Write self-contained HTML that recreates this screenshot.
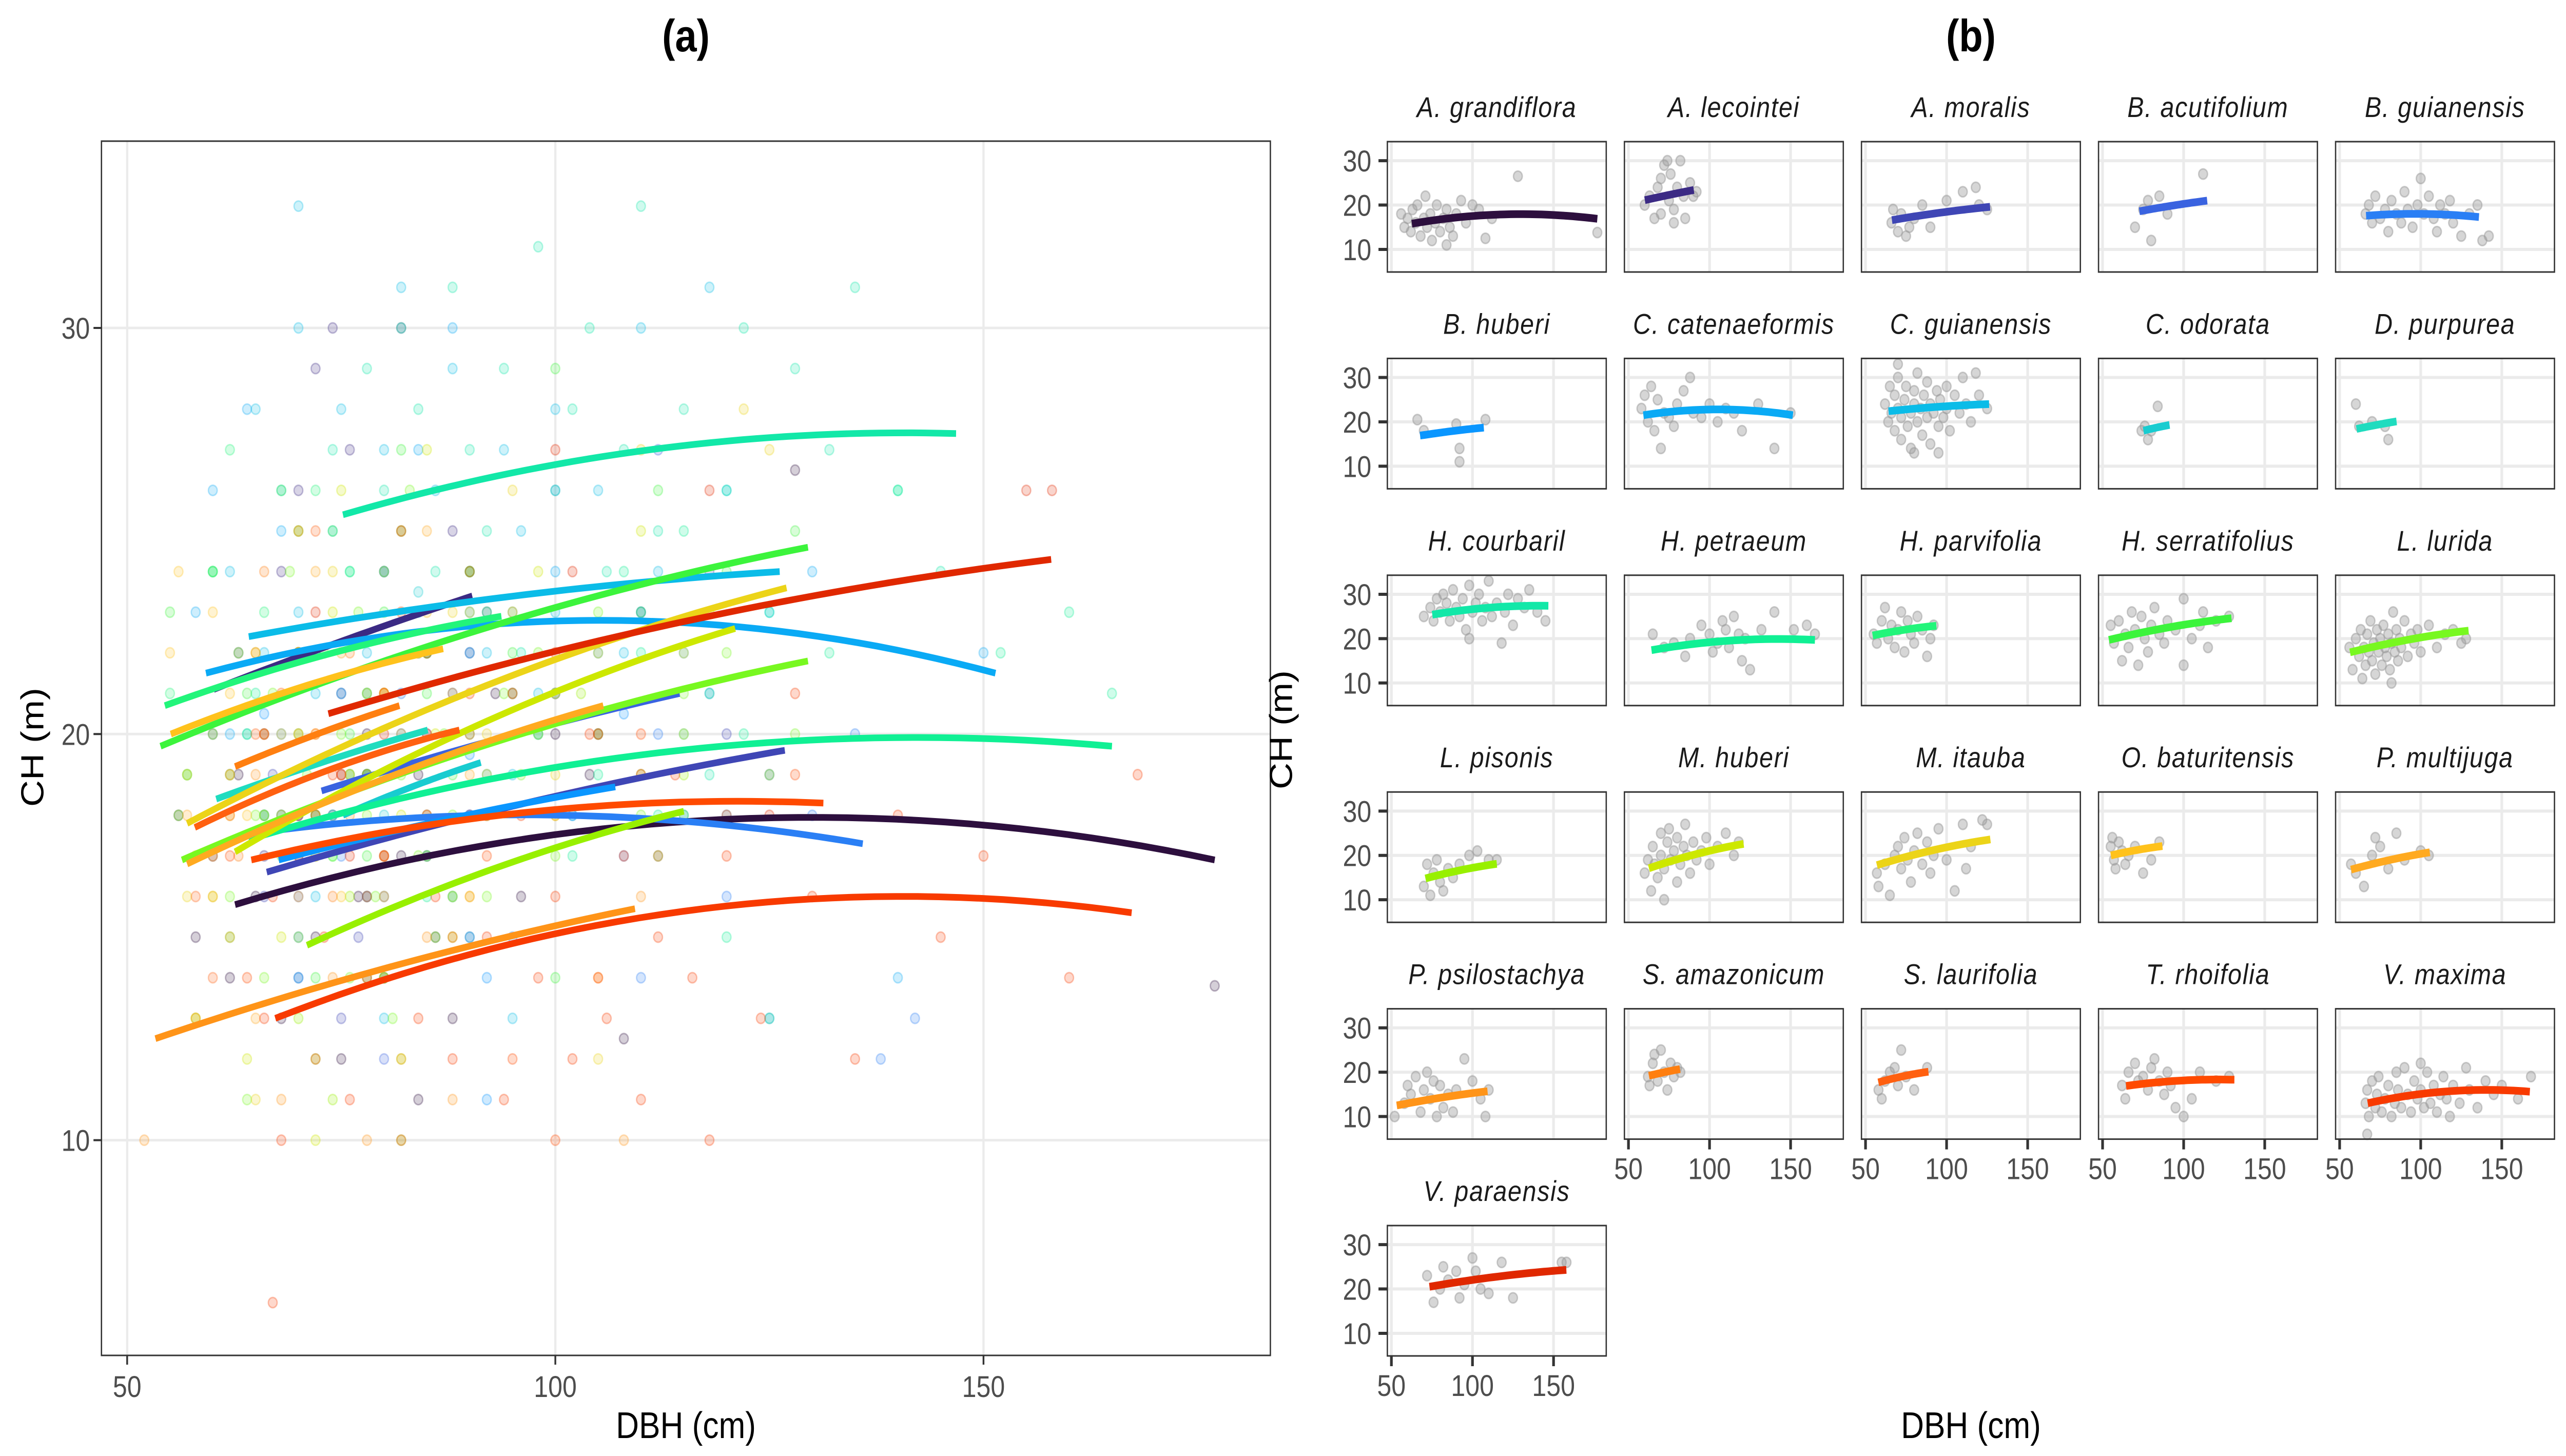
<!DOCTYPE html>
<html><head><meta charset="utf-8"><title>CH vs DBH</title>
<style>
html,body{margin:0;padding:0;background:#fff;overflow:hidden;width:100vw;height:100vh;}
svg{display:block;font-family:"Liberation Sans",Arial,sans-serif;width:100vw;height:100vh;}
</style></head>
<body>
<svg id="chart" xmlns="http://www.w3.org/2000/svg" viewBox="0 0 5791 2837" preserveAspectRatio="none">
<rect x="0" y="0" width="5791" height="2837" fill="#fff"/>
<g id="panelA"></g>
<g id="panelB"></g>
</svg>
<script>
// ---------- DATA ----------
const species = ["A. grandiflora","A. lecointei","A. moralis","B. acutifolium","B. guianensis",
"B. huberi","C. catenaeformis","C. guianensis","C. odorata","D. purpurea",
"H. courbaril","H. petraeum","H. parvifolia","H. serratifolius","L. lurida",
"L. pisonis","M. huberi","M. itauba","O. baturitensis","P. multijuga",
"P. psilostachya","S. amazonicum","S. laurifolia","T. rhoifolia","V. maxima","V. paraensis"];
const speciesColors = ["#2d0f3e","#3b2a84","#3f46b5","#3a63e0","#2a7ff5","#0a96ff","#0aaaf5","#0bbce8","#18ccd0","#1fdcbf",
"#12e8a8","#10f094","#22f57a","#3cf43c","#78f820","#98f000","#cde800","#ecd418","#ffc21c","#ffaa20",
"#ff9418","#ff7f10","#ff6010","#ff4a00","#f83a00","#e02800"];
const curveXStart = [62.6,60.1,66.3,72.7,66.3,67.7,59.2,64.2,75.2,60.4,75.2,64.2,54.4,53.9,56.4,71,62.6,57,55.1,57,53.3,62.6,57.9,64.5,67.3,73.5];
const curveXEnd   = [177,90.3,126.8,114.5,135.9,107,151.4,126.2,91.3,85.1,146.8,165,93.7,129.5,129.5,115,121,127,86.9,105.6,109.3,81.8,88.8,131.3,167.3,157.9];
const curveYStart = [15.8,21.1,16.6,18.6,17.6,16.9,21.5,22.4,18.0,18.4,25.4,17.4,20.7,19.7,16.9,14.8,17.1,17.8,20.0,16.8,12.5,19.2,17.7,16.9,13.0,20.5];
const curveYMid   = [17.9,22.3,18.3,19.9,18.0,17.9,22.8,23.4,18.7,19.3,27.0,19.6,22.0,22.6,19.8,16.7,20.3,21.2,21.2,19.0,14.3,20.0,19.1,18.1,15.7,22.8];
const curveYEnd   = [16.9,23.4,19.6,21.0,17.3,18.7,21.5,24.0,19.3,20.1,27.4,19.7,22.9,24.6,21.8,18.1,22.6,23.6,22.1,20.7,15.7,20.7,20.1,18.3,15.6,24.3];
const pts = [
[[56,18],[58,15],[60,17],[62,14],[63,19],[65,16],[66,20],[68,13],[70,17],[71,22],[72,15],[74,18],[75,12],[77,16],[78,20],[80,14],[82,17],[84,19],[86,15],[88,13],[90,18],[93,21],[96,16],[100,20],[104,19],[108,12.5],[112,17],[128,26.5],[177,13.8],[84,11]],
[[60,20],[63,22],[66,17],[68,24],[70,26],[72,29],[74,30],[75,21],[76,27],[78,19],[80,24],[82,30],[84,22],[85,17],[88,25],[90,22],[92,23],[78,16],[70,18]],
[[66,16],[67,19],[70,14],[72,18],[75,13],[77,15],[80,17],[85,20],[90,15],[100,21],[110,23],[118,24],[120,20],[125,19]],
[[70,15],[75,19],[78,21],[80,12],[85,22],[90,18],[112,27]],
[[66,18],[68,20],[70,16],[72,22],[75,17],[78,19],[80,14],[82,21],[85,18],[88,16],[90,23],[92,19],[95,15],[98,20],[100,26],[102,18],[105,22],[108,17],[110,14],[112,20],[115,18],[118,21],[120,16],[125,13],[130,18],[135,20],[138,12],[142,13]],
[[66,20.5],[70,18],[90,19.5],[92,14],[92,11],[108,20.5]],
[[58,23],[60,26],[62,20],[64,28],[66,18],[68,25],[70,14],[72,22],[75,21],[78,19],[80,24],[84,27],[88,30],[90,22],[95,21],[100,24],[105,20],[110,23],[115,22],[120,18],[130,24],[140,14],[150,22]],
[[62,24],[64,20],[65,28],[66,22],[68,18],[68,26],[70,30],[70,23],[72,16],[72,21],[74,25],[75,28],[76,19],[78,22],[78,14],[80,24],[80,27],[82,20],[82,31],[84,23],[85,17],[86,26],[88,21],[88,29],[90,24],[90,15],[92,22],[94,27],[95,19],[96,25],[98,21],[100,23],[100,28],[102,18],[105,26],[108,22],[110,30],[112,24],[115,20],[118,31],[120,26],[125,23],[70,33],[80,13],[95,13]],
[[74,18],[76,19],[78,16],[84,23.5],[80,18]],
[[60,24],[62,19],[70,20],[78,19],[80,16]],
[[70,25],[74,27],[76,24],[78,29],[80,26],[82,30],[84,28],[86,24],[88,31],[90,27],[92,25],[94,29],[96,22],[98,32],[100,26],[102,28],[104,30],[106,24],[108,27],[110,33],[112,25],[115,28],[118,19],[120,26],[122,30],[125,23],[128,29],[132,27],[135,31],[140,26],[145,24],[98,20]],
[[65,21],[72,18],[78,19],[85,16],[88,20],[95,23],[100,21],[102,17],[105,19],[108,24],[110,22],[112,18],[115,25],[118,21],[120,15],[122,20],[125,13],[132,22],[140,26],[152,22],[160,23],[165,21]],
[[55,21],[57,19],[60,24],[62,27],[64,20],[66,23],[68,18],[70,22],[72,26],[74,17],[76,24],[78,21],[80,19],[82,25],[85,22],[88,16],[90,20],[92,23]],
[[55,23],[57,19],[60,24],[62,15],[64,21],[66,18],[68,26],[70,22],[72,14],[74,25],[76,20],[78,17],[80,23],[82,27],[85,21],[88,19],[90,24],[95,22],[100,29],[105,20],[110,23],[112,26],[115,18],[120,24],[128,25],[100,14]],
[[56,18],[58,13],[60,20],[62,16],[63,22],[64,11],[65,18],[66,14],[67,21],[68,17],[69,24],[70,15],[71,19],[72,12],[73,22],[74,17],[75,20],[76,14],[77,23],[78,18],[79,16],[80,21],[81,13],[82,19],[83,26],[84,17],[85,22],[86,15],[87,20],[88,18],[90,24],[92,16],[94,21],[96,19],[98,22],[100,17],[105,23],[110,18],[115,21],[120,22],[125,19],[128,20],[82,10]],
[[70,13],[72,18],[74,11],[76,16],[78,19],[80,14],[82,12],[85,17],[88,15],[92,18],[98,20],[103,21],[110,19],[115,19]],
[[60,16],[62,19],[64,12],[65,22],[66,18],[68,15],[70,20],[70,25],[72,17],[74,23],[75,26],[76,19],[78,21],[80,14],[80,24],[82,18],[84,22],[85,27],[86,20],[88,16],[90,23],[92,19],[95,21],[98,24],[100,18],[105,22],[110,25],[115,20],[118,23],[72,10]],
[[57,16],[58,13],[62,18],[65,11],[68,20],[70,22],[72,17],[74,24],[76,19],[78,14],[80,21],[82,25],[85,18],[88,23],[90,16],[92,20],[95,26],[100,19],[105,12],[110,27],[115,22],[122,28],[125,27],[112,17]],
[[55,22],[56,24],[57,19],[58,17],[60,23],[62,21],[64,18],[66,20],[70,22],[75,16],[80,19],[85,23]],
[[57,18],[60,16],[65,13],[70,20],[72,24],[75,22],[80,17],[85,25],[90,19],[100,21],[105,20]],
[[52,10],[58,13],[60,17],[62,15],[65,19],[68,11],[70,16],[72,20],[74,14],[76,18],[78,10],[80,17],[82,12],[85,15],[88,11],[90,16],[95,23],[100,18],[105,14],[108,10],[110,16]],
[[62,19],[63,17],[65,22],[66,24],[68,18],[70,25],[72,20],[74,16],[76,22],[78,19],[80,21],[82,20]],
[[58,16],[60,14],[62,18],[65,20],[68,21],[70,17],[72,25],[75,19],[80,16],[88,21]],
[[62,17],[64,14],[66,20],[70,22],[72,18],[75,19],[78,16],[80,21],[82,23],[85,18],[88,15],[90,20],[92,17],[95,12],[100,10],[105,14],[110,20],[120,18],[128,19]],
[[66,13],[67,16],[68,10],[70,18],[72,12],[73,15],[74,19],[76,11],[78,14],[80,17],[82,10],[84,13],[85,20],[86,16],[88,12],[90,21],[92,15],[94,11],[96,18],[98,14],[100,16],[102,12],[104,20],[106,13],[108,17],[110,11],[112,15],[114,19],[116,14],[118,10],[120,17],[124,13],[128,21],[130,16],[135,12],[140,18],[145,15],[150,17],[160,14],[168,19],[67,6],[100,22]],
[[72,23],[76,17],[80,20],[82,25],[85,22],[90,24],[92,18],[95,21],[100,27],[102,24],[105,20],[110,19],[118,26],[125,18],[155,26],[158,26]]
];
const xTicks = [50,100,150];
const yTicks = [10,20,30];

// ---------- HELPERS ----------
const NS = "http://www.w3.org/2000/svg";
function mk(tag, attrs, parent){
  const e = document.createElementNS(NS, tag);
  for (const k in attrs) e.setAttribute(k, attrs[k]);
  parent.appendChild(e);
  return e;
}
function curvePts(i, n){
  const x0=curveXStart[i], x2=curveXEnd[i], x1=(x0+x2)/2;
  const y0=curveYStart[i], y1=curveYMid[i], y2=curveYEnd[i];
  const out=[];
  for(let k=0;k<=n;k++){
    const x=x0+(x2-x0)*k/n;
    const L0=((x-x1)*(x-x2))/((x0-x1)*(x0-x2));
    const L1=((x-x0)*(x-x2))/((x1-x0)*(x1-x2));
    const L2=((x-x0)*(x-x1))/((x2-x0)*(x2-x1));
    out.push([x, y0*L0+y1*L1+y2*L2]);
  }
  return out;
}

// ---------- PANEL A ----------
const A = document.getElementById('panelA');
const aL=229, aR=2867, aT=275, aB=2641;
const axD=[47.0,183.5], ayD=[4.7,34.6];
const ax = v => aL + (v-axD[0])/(axD[1]-axD[0])*(aR-aL);
const ay = v => aB - (v-ayD[0])/(ayD[1]-ayD[0])*(aB-aT);

let t = mk('text',{x:1548,y:100,'text-anchor':'middle','font-size':88,'font-weight':'bold',fill:'#000'},A);
t.textContent='(a)';



const gA = mk('g',{},A);


xTicks.forEach(v=>{ mk('line',{x1:ax(v),x2:ax(v),y1:aT,y2:aB,stroke:'#ebebeb','stroke-width':5},gA); });
yTicks.forEach(v=>{ mk('line',{x1:aL,x2:aR,y1:ay(v),y2:ay(v),stroke:'#ebebeb','stroke-width':5},gA); });

const ptsA = mk('g',{},A);


pts.forEach((arr,i)=>{
  arr.forEach(p=>{
    const c = mk('circle',{cx:ax(p[0]),cy:ay(p[1]),r:10,fill:speciesColors[i],'fill-opacity':0.2,stroke:speciesColors[i],'stroke-opacity':0.3,'stroke-width':3},ptsA);
    
    
  });
});
const crvA = mk('g',{},A);


species.forEach((s,i)=>{
  const d = curvePts(i,40).map((p,k)=>(k?'L':'M')+ax(p[0]).toFixed(1)+','+ay(p[1]).toFixed(1)).join(' ');
  const pth = mk('path',{d:d,fill:'none',stroke:speciesColors[i],'stroke-width':13},crvA);
  
  
});
const frA = mk('rect',{x:aL,y:aT,width:aR-aL,height:aB-aT,fill:'none',stroke:'#333','stroke-width':3},A);


xTicks.forEach(v=>{
  mk('line',{x1:ax(v),x2:ax(v),y1:aB,y2:aB+18,stroke:'#333','stroke-width':4},A);
  const l = mk('text',{x:ax(v),y:2722,'text-anchor':'middle','font-size':58,fill:'#4d4d4d'},A);
  l.textContent=v;
  
  
});
yTicks.forEach(v=>{
  mk('line',{x1:aL-18,x2:aL,y1:ay(v),y2:ay(v),stroke:'#333','stroke-width':4},A);
  const l = mk('text',{x:aL-26,y:ay(v)+21,'text-anchor':'end','font-size':58,fill:'#4d4d4d'},A);
  l.textContent=v;
  
  
});
t = mk('text',{x:1548,y:2802,'text-anchor':'middle','font-size':72,fill:'#000'},A);
t.textContent='DBH (cm)';


t = mk('text',{x:0,y:0,'text-anchor':'middle','font-size':72,fill:'#000',transform:'translate(98,1456) rotate(-90)'},A);
t.textContent='CH (m)';



// ---------- PANEL B ----------
const B = document.getElementById('panelB');
const bL0=3131, bW=494, bPitchX=535, bT0=276, bH=254, bPitchY=422.4;
const bxD=[47.5,182.5], byD=[4.9,34.3];
t = mk('text',{x:4448,y:100,'text-anchor':'middle','font-size':88,'font-weight':'bold',fill:'#000'},B);
t.textContent='(b)';



species.forEach((s,i)=>{
  const col=i%5, row=Math.floor(i/5);
  const L=bL0+col*bPitchX, T=bT0+row*bPitchY, R=L+bW, Bm=T+bH;
  const bx = v => L + (v-bxD[0])/(bxD[1]-bxD[0])*bW;
  const by = v => Bm - (v-byD[0])/(byD[1]-byD[0])*bH;
  const g = mk('g',{},B);
  
  
  const st = mk('text',{x:L+bW/2,y:T-48,'text-anchor':'middle','font-size':56,'font-style':'italic',fill:'#1a1a1a','letter-spacing':2},g);
  st.textContent=s;
  
  
  xTicks.forEach(v=>{ mk('line',{x1:bx(v),x2:bx(v),y1:T,y2:Bm,stroke:'#ebebeb','stroke-width':6},g); });
  yTicks.forEach(v=>{ mk('line',{x1:L,x2:R,y1:by(v),y2:by(v),stroke:'#ebebeb','stroke-width':6},g); });
  pts[i].forEach(p=>{
    const c = mk('circle',{cx:bx(p[0]),cy:by(p[1]),r:10,fill:'#999','fill-opacity':0.4,stroke:'#999','stroke-opacity':0.5,'stroke-width':3},g);
    
    
  });
  const d = curvePts(i,30).map((p,k)=>(k?'L':'M')+bx(p[0]).toFixed(1)+','+by(p[1]).toFixed(1)).join(' ');
  const pth = mk('path',{d:d,fill:'none',stroke:speciesColors[i],'stroke-width':15},g);
  
  
  mk('rect',{x:L,y:T,width:bW,height:bH,fill:'none',stroke:'#333','stroke-width':3},g);
  if(col===0){
    yTicks.forEach(v=>{
      mk('line',{x1:L-20,x2:L,y1:by(v),y2:by(v),stroke:'#333','stroke-width':6},g);
      const l = mk('text',{x:L-36,y:by(v)+21,'text-anchor':'end','font-size':58,fill:'#4d4d4d'},g);
      l.textContent=v;
      
      
    });
  }
  const last = (i+5>=species.length);
  if(last){
    xTicks.forEach(v=>{
      mk('line',{x1:bx(v),x2:bx(v),y1:Bm,y2:Bm+20,stroke:'#333','stroke-width':6},g);
      const l = mk('text',{x:bx(v),y:Bm+78,'text-anchor':'middle','font-size':58,fill:'#4d4d4d'},g);
      l.textContent=v;
      
      
    });
  }
});
t = mk('text',{x:4448,y:2802,'text-anchor':'middle','font-size':72,fill:'#000'},B);
t.textContent='DBH (cm)';


t = mk('text',{x:0,y:0,'text-anchor':'middle','font-size':72,fill:'#000',transform:'translate(2916,1422) rotate(-90)'},B);
t.textContent='CH (m)';


</script>
</body></html>
